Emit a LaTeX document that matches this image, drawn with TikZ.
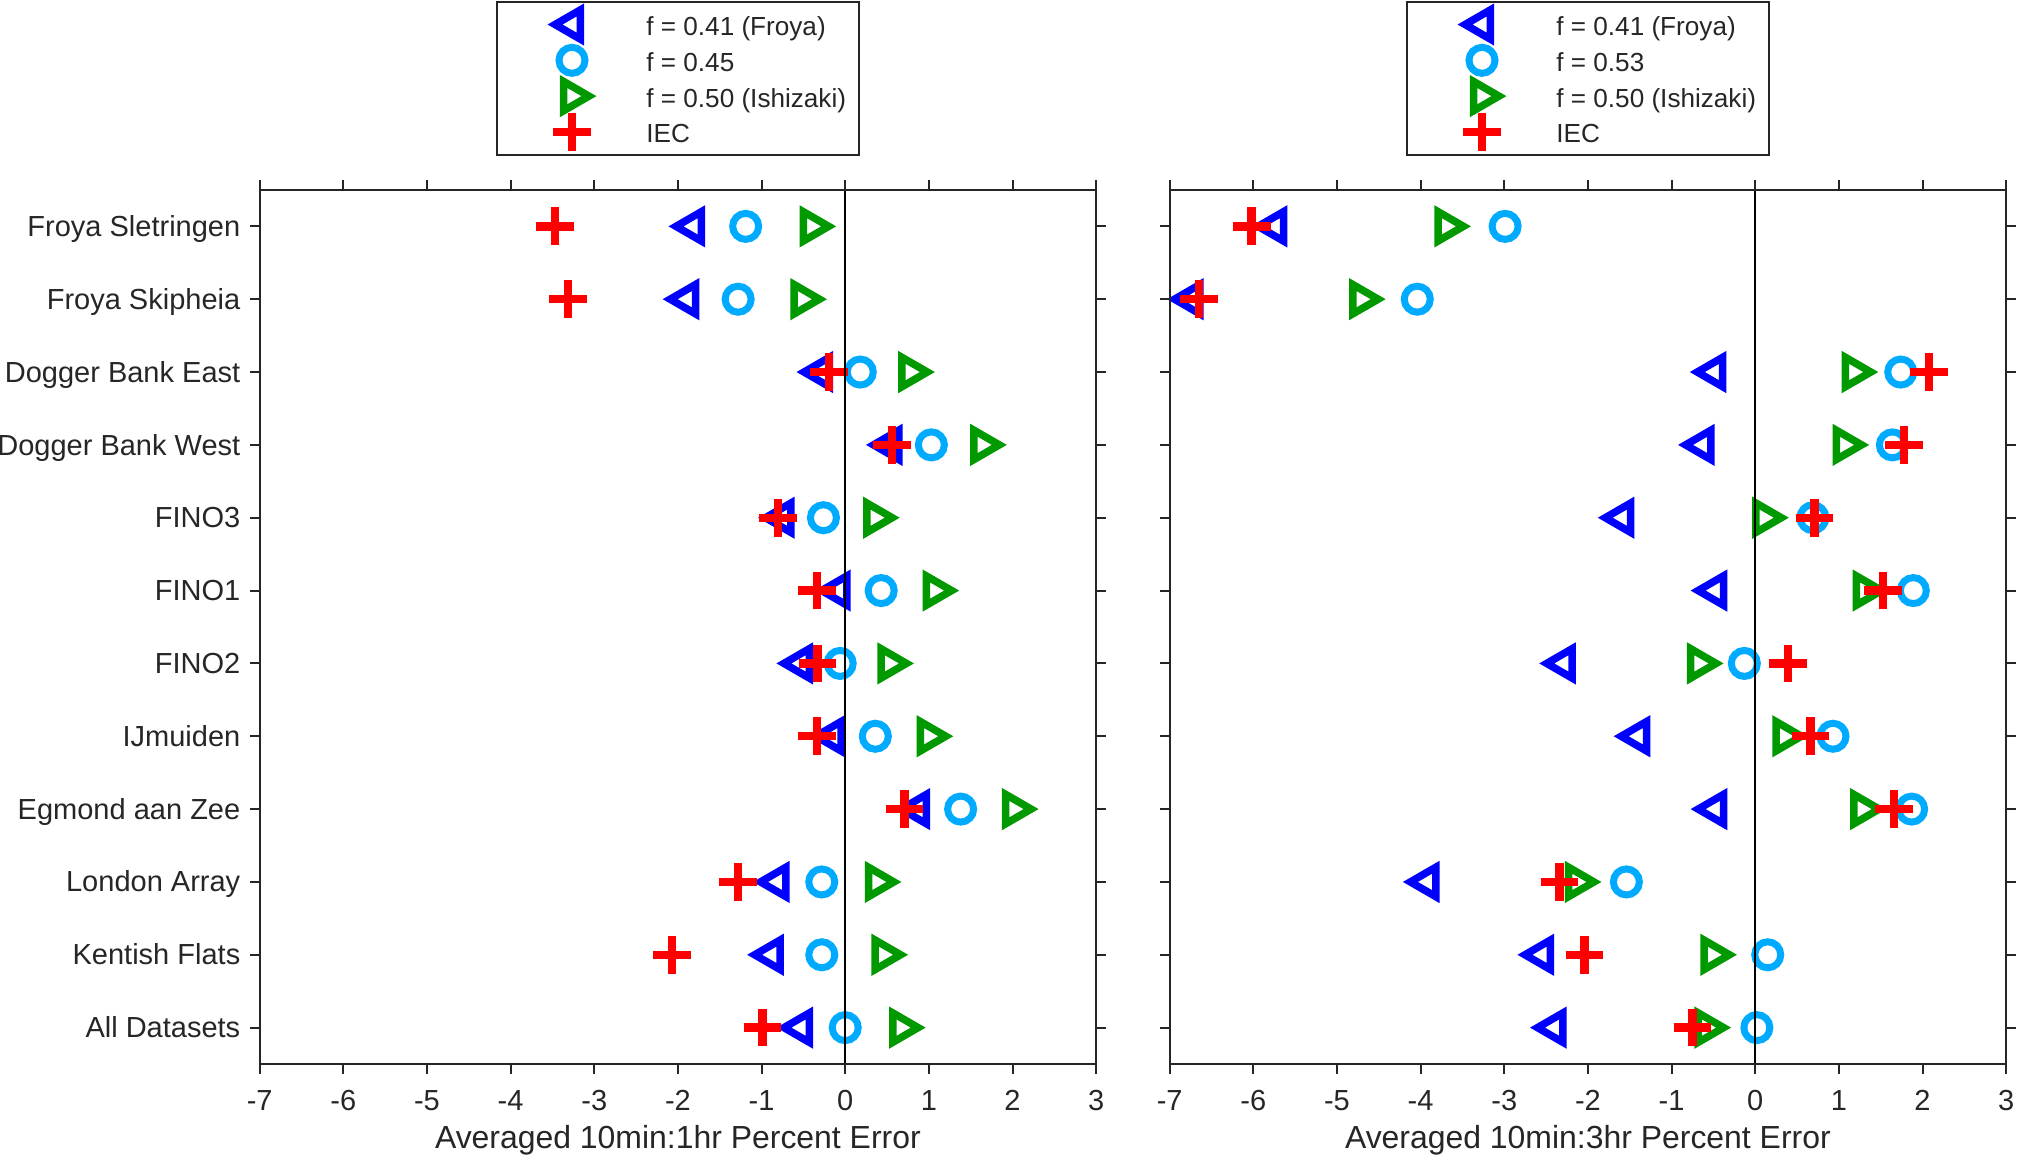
\documentclass[tikz,border=0pt]{standalone}
\usepackage{fontspec}
\setmainfont{Liberation Sans}
\definecolor{axgray}{RGB}{38,38,38}
\definecolor{mblue}{RGB}{0,0,255}
\definecolor{mcyan}{RGB}{0,170,255}
\definecolor{mgreen}{RGB}{0,153,0}
\definecolor{mred}{RGB}{255,0,0}
\tikzset{
  mk/.style={line width=0.075cm, line join=miter},
  pics/tril/.style={code={\draw[mk,mblue] (-0.169cm,0cm) -- (0.0845cm,0.1465cm) -- (0.0845cm,-0.1465cm) -- cycle;}},
  pics/trir/.style={code={\draw[mk,mgreen] (0.169cm,0cm) -- (-0.0845cm,0.1465cm) -- (-0.0845cm,-0.1465cm) -- cycle;}},
  pics/circ/.style={code={\draw[mcyan,line width=0.07cm] (0cm,0cm) circle (0.13cm);}},
  pics/plus/.style={code={\draw[mred,line width=0.083cm] (-0.1885cm,0cm) -- (0.1885cm,0cm) (0cm,-0.1885cm) -- (0cm,0.1885cm);}},
  axline/.style={axgray, line width=0.02cm},
  lab/.style={text=axgray, inner sep=0pt, font=\fontsize{8.25}{10}\selectfont},
  leglab/.style={lab, anchor=base west, font=\fontsize{7.43}{9}\selectfont},
  xlab/.style={lab, anchor=base, font=\fontsize{9.08}{11}\selectfont},
}

\begin{document}
\begin{tikzpicture}[x=0.01cm, y=-0.01cm]
\useasboundingbox (0,0) rectangle (2017,1156);

% site names
\foreach \r/\site in {1/Froya Sletringen, 2/Froya Skipheia, 3/Dogger Bank East, 4/Dogger Bank West,
  5/FINO3, 6/FINO1, 7/FINO2, 8/IJmuiden, 9/Egmond aan Zee, 10/London Array, 11/Kentish Flats, 12/All Datasets}
  \node[lab, anchor=base east] (site\r) at (241,{163.8+72.8*\r}) {\site};

% 10min:1hr
\begin{scope}[shift={(845.2,153.5)}, x=0.836cm, y=-0.728cm]
  \foreach \r/\a/\b/\c/\d in {1/-1.82/-1.19/-0.40/-3.47, 2/-1.89/-1.28/-0.51/-3.31, 3/-0.29/0.18/0.78/-0.19,
    4/0.54/1.03/1.64/0.56, 5/-0.75/-0.26/0.36/-0.80, 6/-0.08/0.43/1.07/-0.34, 7/-0.53/-0.06/0.53/-0.33,
    8/-0.15/0.36/1.00/-0.34, 9/0.87/1.38/2.02/0.71, 10/-0.81/-0.28/0.38/-1.28, 11/-0.88/-0.28/0.46/-2.07,
    12/-0.53/0.00/0.67/-0.99}{
    \pic at (\a,\r) {tril};
    \pic at (\b,\r) {circ};
    \pic at (\c,\r) {trir};
    \pic at (\d,\r) {plus};
  }
\end{scope}

% 10min:3hr
\begin{scope}[shift={(1755.2,153.5)}, x=0.836cm, y=-0.728cm]
  \foreach \r/\a/\b/\c/\d in {1/-5.74/-2.99/-3.69/-6.02, 2/-6.74/-4.04/-4.71/-6.65, 3/-0.49/1.74/1.18/2.08,
    4/-0.63/1.64/1.07/1.78, 5/-1.59/0.69/0.11/0.71, 6/-0.48/1.89/1.31/1.53, 7/-2.29/-0.13/-0.67/0.39,
    8/-1.40/0.93/0.35/0.66, 9/-0.48/1.87/1.28/1.66, 10/-3.92/-1.54/-2.13/-2.34, 11/-2.55/0.15/-0.51/-2.04,
    12/-2.40/0.02/-0.58/-0.75}{
    \pic at (\a,\r) {tril};
    \pic at (\b,\r) {circ};
    \pic at (\c,\r) {trir};
    \pic at (\d,\r) {plus};
  }
\end{scope}

% axes and legends
\foreach \off/\cval/\per in {0/0.45/1hr, 910/0.53/3hr}{
  \draw[axline, fill=white] (497.3+\off,2) rectangle (859.3+\off,155);
  \pic at (572+\off,24.5) {tril};
  \pic at (572+\off,60.3) {circ};
  \pic at (572+\off,96.1) {trir};
  \pic at (572+\off,131.9) {plus};
  \node[leglab] (leg1\per) at (645.7+\off,35.5) {f = 0.41 (Froya)};
  \node[leglab] (leg2\per) at (645.7+\off,71.3) {f = \cval};
  \node[leglab] (leg3\per) at (645.7+\off,107.1) {f = 0.50 (Ishizaki)};
  \node[leglab] (leg4\per) at (645.7+\off,142.9) {IEC};
  \begin{scope}[shift={(845.2+\off,153.5)}, x=0.836cm, y=-0.728cm]
    \draw[black, line width=0.017cm] (0,0.5) -- (0,12.5);
    \foreach \t in {-7,...,3}{
      \draw[axline] (\t,0.5) -- ++(0cm,0.1cm) (\t,12.5) -- ++(0cm,-0.1cm);
      \node[lab, anchor=base, yshift=-0.465cm] (tick\per\t) at (\t,12.5) {\t};
    }
    \foreach \r in {1,...,12}
      \draw[axline] (-7,\r) -- ++(-0.1cm,0cm) (3,\r) -- ++(0.1cm,0cm);
    \draw[axline] (-7,0.5) rectangle (3,12.5);
    \node[xlab, yshift=-0.845cm] (xl\per) at (-2,12.5) {Averaged 10min:\per\ Percent Error};
  \end{scope}
}
\end{tikzpicture}
\end{document}
